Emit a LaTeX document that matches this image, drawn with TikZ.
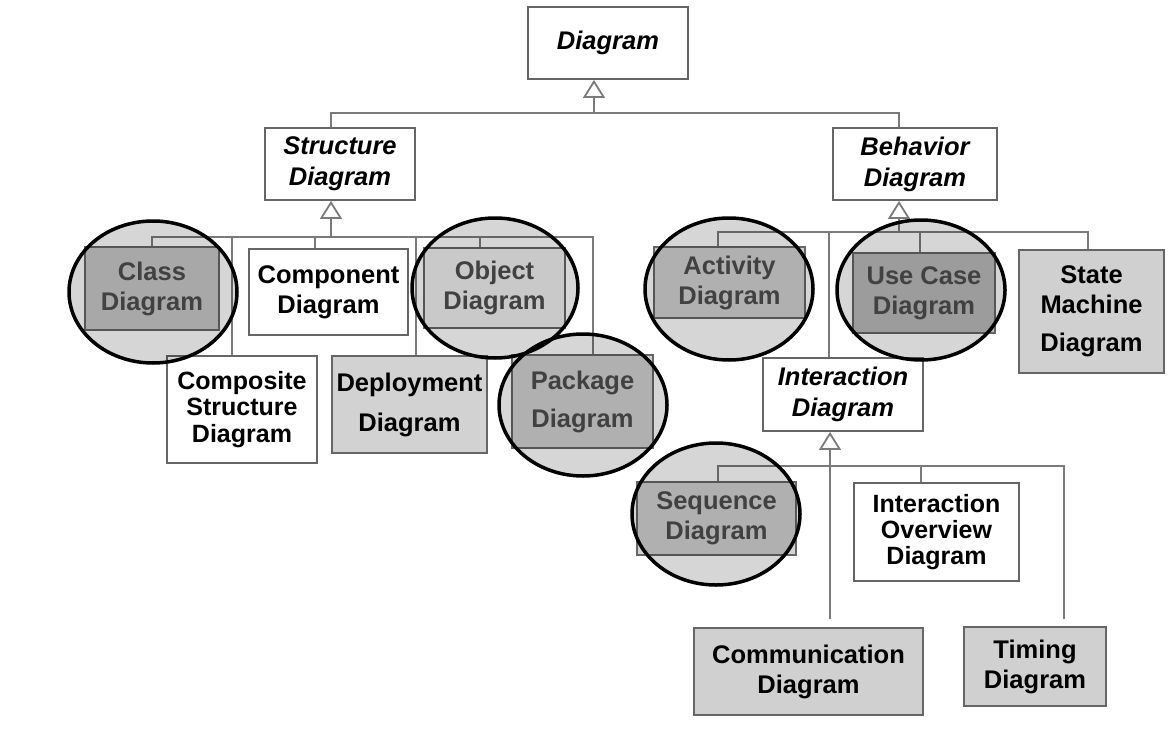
\documentclass[tikz,border=0pt]{standalone}
\usepackage{fontspec}
\setmainfont{Liberation Sans}
\usetikzlibrary{arrows.meta}
\definecolor{edgec}{HTML}{666666}
\definecolor{wire}{HTML}{7A7A7A}
\definecolor{dimtext}{HTML}{4E4E4E}
\definecolor{gA}{HTML}{C9C9C9}
\definecolor{gB}{HTML}{D2D2D2}
\definecolor{gC}{HTML}{BABABA}
\definecolor{gD}{HTML}{F0F0F0}
\definecolor{gE}{HTML}{D0D0D0}
\begin{document}
\begin{tikzpicture}[x=1pt,y=-1pt,
  box/.style={draw=edgec, line width=1.8pt, fill=white, align=center, inner sep=1pt,
    font=\bfseries\fontsize{25.5}{30}\selectfont},
  abstractbox/.style={box, font=\bfseries\itshape\fontsize{25.5}{31}\selectfont},
  lensed/.style={box, text=dimtext},
  conn/.style={draw=wire, line width=1.8pt},
  gen/.style={conn, -{Triangle[open, length=18pt, width=22pt]}},
  lens/.style={draw=black, line width=3.5pt, fill=black, fill opacity=0.16}
]
\useasboundingbox (0,0) rectangle (1174,754);
\fill[white] (0,0) rectangle (1174,754);

% junctions
\coordinate (j0) at (594,113);
\coordinate (j1) at (331,237);
\coordinate (j2) at (899,232);
\coordinate (j3) at (830,466);

% nodes
\node[abstractbox, minimum width=160pt, minimum height=72pt] (diag) at (608,43) {Diagram};
\node[abstractbox, minimum width=150pt, minimum height=72pt] (struct) at (340,164) {Structure\\Diagram};
\node[abstractbox, minimum width=164pt, minimum height=72pt] (behav) at (915,164) {Behavior\\Diagram};

\node[lensed, fill=gA, minimum width=134pt, minimum height=83pt] (class) at (152,288.5) {Class\\Diagram};
\node[box, minimum width=159pt, minimum height=86pt] (compo) at (328.5,292) {Component\\Diagram};
\node[lensed, fill=gD, minimum width=141pt, minimum height=80pt] (object) at (494.5,288) {Object\\Diagram};
\node[box, minimum width=150pt, minimum height=107pt, font=\bfseries\fontsize{25}{26.5}\selectfont] (compos) at (242,409.5) {Composite\\Structure\\Diagram};
\node[box, fill=gB, minimum width=155pt, minimum height=97pt] (deploy) at (409.5,404.5) {Deployment\\[10pt]Diagram};
\node[lensed, fill=gB, minimum width=141pt, minimum height=93pt, font=\bfseries\fontsize{25.5}{38}\selectfont] (package) at (582.5,401.5) {Package\\Diagram};

\node[lensed, fill=gB, minimum width=151pt, minimum height=71pt] (activity) at (729.5,282.5) {Activity\\Diagram};
\node[abstractbox, minimum width=160pt, minimum height=73pt] (inter) at (843,394.5) {Interaction\\Diagram};
\node[lensed, fill=gC, minimum width=142pt, minimum height=80pt] (usecase) at (924,293) {Use Case\\Diagram};
\node[box, fill=gE, minimum width=145pt, minimum height=123pt] (state) at (1091.5,311.5) {State\\Machine\\[8pt]Diagram};

\node[lensed, fill=gB, minimum width=159pt, minimum height=73pt] (seq) at (716.5,518.5) {Sequence\\Diagram};
\node[box, minimum width=165pt, minimum height=98pt, font=\bfseries\fontsize{25}{26}\selectfont] (overview) at (936.5,532) {Interaction\\Overview\\Diagram};
\node[box, fill=gE, minimum width=229pt, minimum height=87pt] (commun) at (808.5,671.5) {Communication\\Diagram};
\node[box, fill=gE, minimum width=142pt, minimum height=79pt] (timing) at (1035,666.5) {Timing\\Diagram};

% generalisation: Diagram
\draw[gen] (j0) -- (j0 |- diag.south);
\draw[conn] ([xshift=-9pt]struct.north) |- (j0);
\draw[conn] ([xshift=-16pt]behav.north) |- (j0);

% Structure children
\draw[gen] (j1) -- (j1 |- struct.south);
\draw[conn] (class.north) |- (j1);
\draw[conn] ([xshift=-10pt]compos.north) |- (j1);
\draw[conn] ([xshift=-13.5pt]compo.north) |- (j1);
\draw[conn] ([xshift=6.5pt]deploy.north) |- (j1);
\draw[conn] ([xshift=-14.5pt]object.north) |- (j1);
\draw[conn] ([xshift=10.5pt]package.north) |- (j1);

% Behavior children
\draw[gen] (j2) -- (j2 |- behav.south);
\draw[conn] ([xshift=-11.5pt]activity.north) |- (j2);
\draw[conn] ([xshift=-14pt]inter.north) |- (j2);
\draw[conn] ([xshift=-4pt]usecase.north) |- (j2);
\draw[conn] ([xshift=-3.5pt]state.north) |- (j2);

% Interaction children
\draw[gen] (j3) -- (j3 |- inter.south);
\draw[conn] ([xshift=1.5pt]seq.north) |- (j3);
\draw[conn] ([xshift=-15.5pt]overview.north) |- (j3);
\draw[conn, shorten <=8pt] ([xshift=21.5pt]commun.north) |- (j3);
\draw[conn, shorten <=7pt] ([xshift=29pt]timing.north) |- (j3);

% highlight lenses
\draw[lens] (153,292) ellipse [x radius=84pt, y radius=71pt];
\draw[lens] (495,288) ellipse [x radius=83pt, y radius=70pt];
\draw[lens] (583,405) ellipse [x radius=84pt, y radius=71pt];
\draw[lens] (729,289) ellipse [x radius=84pt, y radius=71pt];
\draw[lens] (921,290) ellipse [x radius=84pt, y radius=70pt];
\draw[lens] (716,514) ellipse [x radius=84pt, y radius=71pt];
\end{tikzpicture}
\end{document}
